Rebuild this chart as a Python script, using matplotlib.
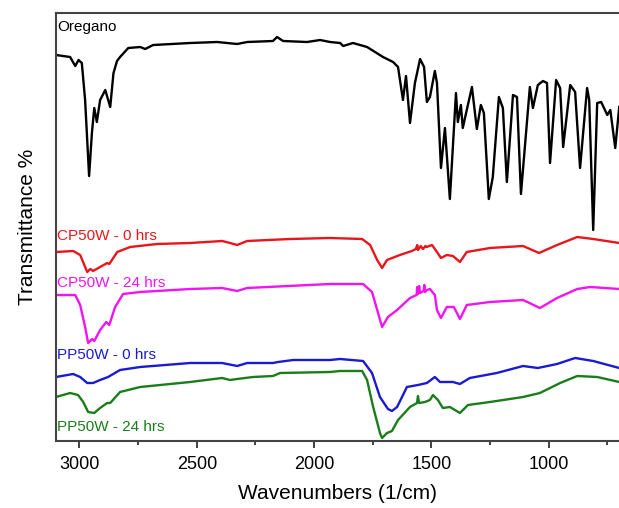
"""FTIR spectra of oregano and CP50W / PP50W films, stacked with offsets."""

import matplotlib

matplotlib.use("Agg")
import matplotlib.pyplot as plt
from matplotlib.ticker import MultipleLocator

plt.rcParams["font.family"] = ["Liberation Sans", "DejaVu Sans"]

# wavenumber (1/cm) and offset transmittance (arbitrary units)
oregano_wn = [3100, 3040, 3018, 3004, 2990, 2976, 2959, 2947, 2937, 2926, 2912, 2890,
              2869, 2855, 2840, 2827, 2792, 2741, 2720, 2686, 2528, 2413, 2328, 2285,
              2175, 2158, 2132, 2030, 1974, 1932, 1889, 1876, 1834, 1774, 1706, 1663,
              1642, 1621, 1608, 1591, 1570, 1548, 1531, 1519, 1506, 1485, 1476, 1459,
              1442, 1421, 1395, 1387, 1374, 1366, 1349, 1327, 1306, 1289, 1276, 1255,
              1238, 1212, 1195, 1178, 1152, 1135, 1118, 1080, 1067, 1046, 1024, 1007,
              994, 968, 951, 938, 908, 887, 866, 836, 827, 810, 793, 776, 750, 737,
              716, 699]
oregano_t = [386, 384, 375, 381, 378, 341, 265, 308, 333, 319, 341, 351,
             334, 368, 380, 384, 393, 394, 392, 396, 398, 399, 397, 399,
             400, 404, 400, 399, 401, 399, 398, 395, 398, 394, 384, 379,
             374, 341, 365, 318, 358, 382, 374, 339, 344, 370, 358, 273,
             313, 242, 348, 319, 336, 313, 331, 354, 312, 336, 328, 242,
             264, 344, 333, 259, 346, 344, 247, 354, 333, 356, 360, 358,
             278, 361, 353, 294, 356, 349, 273, 353, 341, 211, 338, 339, 326, 331,
             293, 334]

cp0_wn = [3100, 3027, 2997, 2967, 2954, 2942, 2912, 2882, 2873, 2839, 2784, 2669,
          2528, 2392, 2358, 2328, 2285, 2102, 1932, 1795, 1761, 1731, 1710, 1689,
          1634, 1583, 1566, 1560, 1557, 1545, 1536, 1525, 1520, 1497, 1476, 1459,
          1434, 1408, 1378, 1349, 1250, 1109, 1041, 964, 878, 810, 699]
cp0_t = [189, 190, 186, 169, 172, 170, 174, 178, 177, 189, 194, 197,
         198, 200, 198, 196, 200, 202, 203, 202, 196, 181, 173, 181,
         186, 190, 192, 196, 191, 195, 192, 195, 194, 196, 189, 183,
         186, 185, 179, 189, 193, 195, 188, 196, 204, 202, 198]

cp24_wn = [3100, 3018, 2997, 2976, 2963, 2946, 2937, 2912, 2886, 2873, 2848, 2814,
           2741, 2528, 2392, 2328, 2285, 1932, 1889, 1791, 1753, 1727, 1710, 1685,
           1646, 1591, 1563, 1560, 1557, 1552, 1548, 1533, 1530, 1527, 1519, 1506,
           1485, 1476, 1459, 1434, 1404, 1378, 1349, 1250, 1109, 1037, 964, 878,
           823, 699]
cp24_t = [146, 146, 136, 114, 98, 102, 100, 111, 119, 116, 134, 147,
          149, 152, 153, 150, 153, 157, 157, 157, 149, 128, 114, 124,
          131, 143, 146, 154, 147, 155, 148, 150, 156, 149, 151, 152,
          146, 131, 123, 134, 134, 122, 136, 139, 141, 133, 143, 152,
          154, 152]

pp0_wn = [3100, 3027, 2997, 2967, 2942, 2912, 2878, 2827, 2741, 2528, 2392, 2328,
          2285, 2175, 2153, 2089, 1932, 1889, 1791, 1753, 1719, 1685, 1668, 1646,
          1604, 1557, 1519, 1485, 1463, 1408, 1378, 1336, 1221, 1109, 1046, 964,
          887, 810, 699]
pp0_t = [64, 67, 64, 58, 58, 61, 64, 71, 74, 78, 78, 75,
         78, 78, 79, 81, 81, 82, 80, 68, 44, 32, 30, 34,
         54, 56, 58, 64, 59, 59, 57, 63, 68, 75, 73, 77,
         83, 80, 73]

pp24_wn = [3100, 3040, 3006, 2984, 2963, 2937, 2912, 2882, 2869, 2827, 2741, 2528,
           2392, 2358, 2328, 2260, 2175, 2145, 1932, 1889, 1795, 1774, 1748, 1719,
           1710, 1689, 1668, 1642, 1591, 1561, 1557, 1552, 1527, 1506, 1493, 1472,
           1451, 1421, 1378, 1344, 1250, 1109, 1037, 951, 878, 793, 699]
pp24_t = [44, 48, 46, 39, 29, 28, 33, 38, 38, 49, 54, 59,
          63, 61, 62, 64, 65, 68, 69, 70, 70, 61, 34, 8,
          3, 8, 10, 21, 34, 38, 45, 38, 39, 41, 46, 41,
          33, 34, 28, 36, 39, 44, 48, 58, 65, 64, 59]

series = [
    ("Oregano", oregano_wn, oregano_t, "black", 414),
    ("CP50W - 0 hrs", cp0_wn, cp0_t, "#e8161c", 205),
    ("CP50W - 24 hrs", cp24_wn, cp24_t, "#f014f0", 158),
    ("PP50W - 0 hrs", pp0_wn, pp0_t, "#1a1ad2", 86),
    ("PP50W - 24 hrs", pp24_wn, pp24_t, "#1a7d1a", 14),
]

fig = plt.figure(figsize=(6.19, 5.08), dpi=100)
ax = fig.add_axes([0.0905, 0.1319, 0.9095, 0.8425])

for name, wn, t, color, label_y in series:
    ax.plot(wn, t, color=color, lw=1.7, solid_joinstyle="round")
    ax.text(3095, label_y, name, color=color, fontsize=11, ha="left", va="center")

ax.set_xlim(3100, 700)
ax.set_ylim(0, 428)
ax.xaxis.set_major_locator(MultipleLocator(500))
ax.xaxis.set_minor_locator(MultipleLocator(250))
ax.tick_params(axis="x", which="major", direction="out", length=5, width=1.3,
               labelsize=13, color="#333333", pad=6)
ax.tick_params(axis="x", which="minor", direction="out", length=3, width=1.3,
               color="#333333")
ax.set_yticks([])
for side in ("left", "top", "bottom"):
    ax.spines[side].set_color("#444444")
    ax.spines[side].set_linewidth(1.5)
ax.spines["right"].set_visible(False)

ax.set_xlabel("Wavenumbers (1/cm)", fontsize=15, labelpad=8)
ax.set_ylabel("Transmittance %", fontsize=15, labelpad=14)

fig.savefig("out.png", dpi=100)
